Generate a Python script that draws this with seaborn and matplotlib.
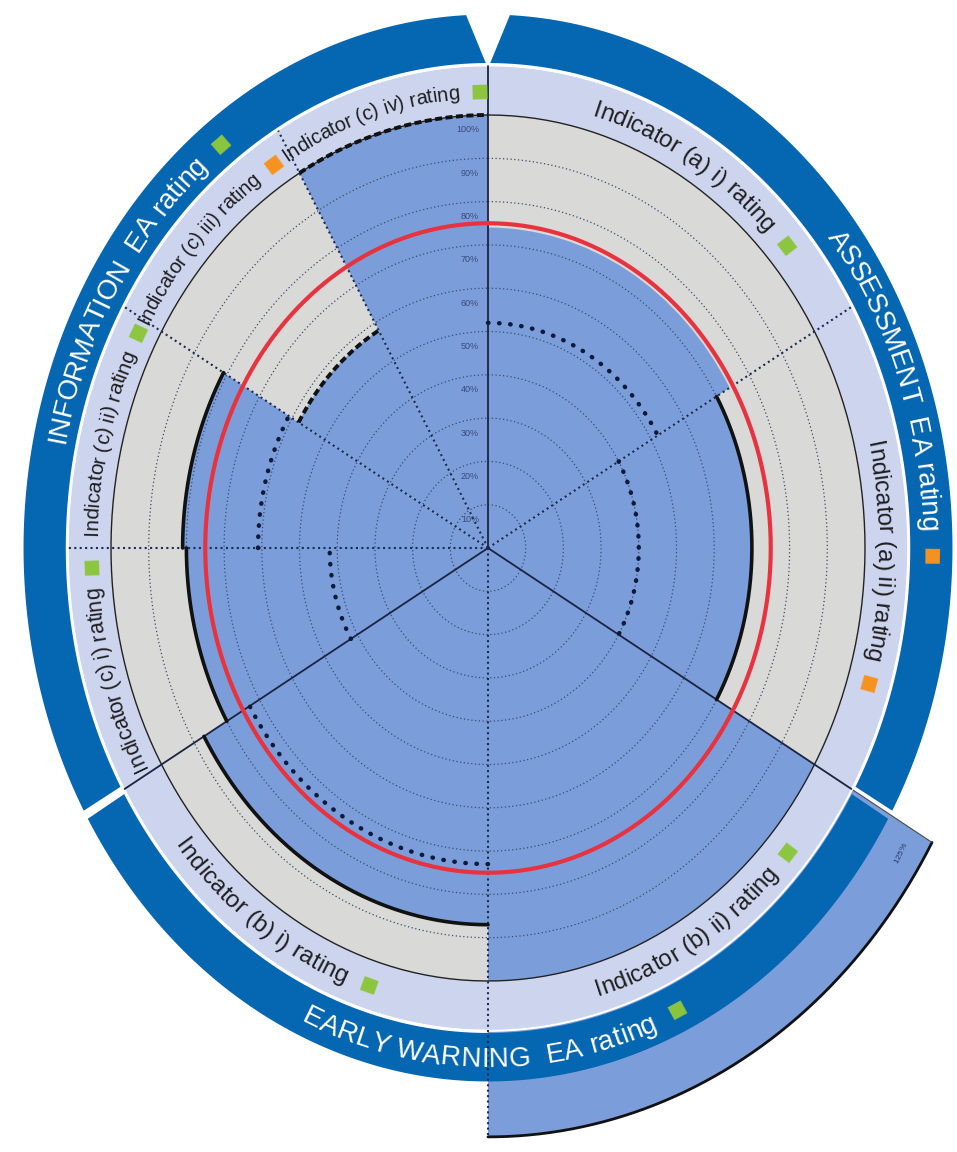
import numpy as np
import matplotlib
matplotlib.use('Agg')
import matplotlib.pyplot as plt
import seaborn as sns
from matplotlib import font_manager
from matplotlib.ft2font import FT2Font
from matplotlib.transforms import offset_copy

# ---- data ----
groups = ['ASSESSMENT', 'EARLY WARNING', 'INFORMATION']
group_labels = ['ASSESSMENT  EA rating', 'EARLY WARNING  EA rating', 'INFORMATION  EA rating']
group_rating = ['orange', 'green', 'green']

indicators = ['Indicator (a) i) rating', 'Indicator (a) ii) rating',
              'Indicator (b) ii) rating', 'Indicator (b) i) rating',
              'Indicator (c) i) rating', 'Indicator (c) ii) rating',
              'Indicator (c) iii) rating', 'Indicator (c) iv) rating']
indicator_group = [0, 0, 1, 1, 2, 2, 2, 2]
score = [74, 70, 136, 87, 80, 81, 58, 100]
outline = [np.nan, 70, 136, 87, 80, 81, np.nan, np.nan]
dotted = [52, 40, np.nan, 73, 42, 61, 58, 100]
indicator_rating = ['green', 'orange', 'green', 'green', 'green', 'green', 'orange', 'green']
target = 75
ring_ticks = [10, 20, 30, 40, 50, 60, 70, 80, 90, 100]

# label centres (degrees clockwise from top) and sizes
label_center = [33, 92.5, 147, 213.5, 255, 285.4, 313.8, 344.4]
label_size = [17.5, 17.5, 17, 17.5, 15.5, 15, 14.5, 14.5]
group_label_center = [72, 179, 302.5]

BLUE = '#7b9edb'
GREY = '#d9d9d7'
LIGHT = '#cdd4ee'
DARK = '#0566b2'
RED = '#e8333f'
NAVY = '#1c2b52'
RATE = {'green': '#8cc63e', 'orange': '#f7931e'}

sns.set_style('white')
plt.rcParams['font.family'] = ['Liberation Sans', 'DejaVu Sans']

DPI = 100
fig = plt.figure(figsize=(9.57, 11.52), dpi=DPI)
cx, cy = 488, 1152 - 548          # centre in pixels
sx, sy = 3.77, 4.33               # pixels per percent
RMAX = 140
ax = fig.add_axes([(cx - RMAX * sx) / 957, (cy - RMAX * sy) / 1152,
                   2 * RMAX * sx / 957, 2 * RMAX * sy / 1152], projection='polar')
ax.set_theta_zero_location('N')
ax.set_theta_direction(-1)
ax.set_ylim(0, RMAX)
ax.set_aspect('auto')
ax.set_xticks([])
ax.set_yticks([])
ax.grid(False)
ax.spines['polar'].set_visible(False)
ax.patch.set_visible(False)

# sector geometry from group membership
n_in_group = [indicator_group.count(g) for g in range(len(groups))]
width = [120 / n_in_group[g] for g in indicator_group]
start = list(np.cumsum([0] + width[:-1]))
mid = [s + w / 2 for s, w in zip(start, width)]


def arc(t0, t1, n=200):
    return np.deg2rad(np.linspace(t0, t1, n))


# background and bars
ax.bar(np.deg2rad(mid), [100] * len(mid), width=np.deg2rad(width), bottom=0,
       color=GREY, edgecolor='none', zorder=1)
ax.bar(np.deg2rad(mid), score, width=np.deg2rad(width), bottom=0,
       color=BLUE, edgecolor='none', zorder=2)

# dotted grid rings
for p in ring_ticks[:-1]:
    ax.plot(arc(0, 360, 400), np.full(400, p), color='#3d4b70', lw=0.9,
            ls=(0, (1, 2)), zorder=3)

# bar beyond the frame: edges
for i, v in enumerate(score):
    if v > 100:
        ax.plot(arc(start[i], start[i] + width[i]), np.full(200, v), color='#111111',
                lw=2, zorder=3)
        ax.plot(np.deg2rad([start[i], start[i]]), [100, v], color='#4a4a4a', lw=0.8, zorder=3)

# label rings
ax.bar(0, 11.3, width=2 * np.pi, bottom=100, color=LIGHT, edgecolor='none', zorder=4)
ax.plot(arc(0, 360, 400), np.full(400, 111.5), color='white', lw=1.6, zorder=4.2)

group_start = [0.3, 120.5, 240.5]
group_end = [119.5, 239.5, 359.7]
outer_start = [2.7, 120.5, 240.5]
outer_end = [119.5, 239.5, 357.3]
for g in range(len(groups)):
    th = np.concatenate([np.linspace(group_start[g], group_end[g], 200),
                         np.linspace(outer_end[g], outer_start[g], 200)])
    rr = np.concatenate([np.full(200, 112.0), np.full(200, 123.2)])
    ax.fill(np.deg2rad(th), rr, color=DARK, lw=0, zorder=4.1)

# 100 % frame
ax.plot(arc(0, 360, 400), np.full(400, 100), color='#222222', lw=1.0, zorder=5)

# radial dividers
for i in range(len(start)):
    first = i == 0 or indicator_group[i] != indicator_group[i - 1]
    r_end = 111.3
    if i > 0 and score[i - 1] > 100:
        r_end = score[i - 1]
    if first:
        ax.plot(np.deg2rad([start[i]] * 2), [0, 111.3], color='#1a2440', lw=1.3, zorder=5)
    else:
        ax.plot(np.deg2rad([start[i]] * 2), [0, r_end], color=NAVY, lw=1.5,
                ls=(0, (1, 1.6)), zorder=5)

# target ring
ax.plot(arc(0, 360, 400), np.full(400, target), color=RED, lw=3, zorder=6)

# outline of bar tops and dotted series
for i in range(len(score)):
    t = arc(start[i], start[i] + width[i])
    if not np.isnan(outline[i]) and outline[i] <= 100:
        ax.plot(t, np.full(200, outline[i]), color='#111111', lw=2.6, zorder=6)
    if not np.isnan(dotted[i]):
        if dotted[i] == score[i]:
            ax.plot(t, np.full(200, dotted[i]), color='#111111', lw=2.8,
                    ls=(0, (1.8, 0.9)), zorder=6)
        else:
            ax.plot(t, np.full(200, dotted[i]), color='#0d1a3a', lw=3.2,
                    ls=(0, (0.1, 2.4)), dash_capstyle='round', zorder=6)

# ring percentage labels
tick_tr = offset_copy(ax.transData, fig=fig, x=-9, y=-15, units='dots')
for p in ring_ticks:
    ax.text(0, p, f'{p}%', transform=tick_tr, ha='right', va='center',
            fontsize=6.5, color='#3a4a7a', zorder=7)

# ---- curved text ----
_fonts = {}


def advance(ch, family, size):
    if family not in _fonts:
        path = font_manager.findfont(font_manager.FontProperties(family=family))
        _fonts[family] = FT2Font(path)
    f = _fonts[family]
    f.set_size(size, DPI)
    return f.load_char(ord(ch)).linearHoriAdvance / 65536


def disp(th, r):
    return ax.transData.transform((np.deg2rad(th), r))


def walk(th, r, dist, sign):
    n = int(abs(dist) / 3) + 1
    for _ in range(n):
        p0, p1 = disp(th, r), disp(th + 0.05, r)
        rate = np.hypot(*(p1 - p0)) / 0.05
        th += sign * dist / n / rate
    return th


def arc_label(segments, center, r, cap_px, flip):
    sign = -1 if flip else 1
    chars = [(ch, c, fam, sz, wt) for (txt, c, fam, sz, wt) in segments for ch in txt]
    total = sum(advance(ch, fam, sz) for ch, c, fam, sz, wt in chars)
    th = walk(center, r, -total / 2, sign)
    inv = fig.transFigure.inverted()
    for ch, c, fam, sz, wt in chars:
        a = advance(ch, fam, sz)
        th = walk(th, r, a / 2, sign)
        p = disp(th, r)
        q = disp(th + sign * 0.05, r)
        t = (q - p) / np.hypot(*(q - p))
        up = np.array([-t[1], t[0]])
        rot = np.degrees(np.arctan2(t[1], t[0]))
        if ch == '\u25a0':
            pos, va = p, 'center'
        else:
            pos, va = p - up * cap_px / 2, 'baseline'
        fx, fy = inv.transform(pos)
        if ch != ' ':
            fig.text(fx, fy, ch, rotation=rot, rotation_mode='anchor', ha='center',
                     va=va, color=c, family=fam, fontsize=sz, fontweight=wt)
        th = walk(th, r, a / 2, sign)


GRP = 20
for i, name in enumerate(indicators):
    c = label_center[i]
    sz = label_size[i]
    arc_label([(name + '  ', '#1e1e1e', 'Liberation Sans', sz, 'normal'),
               ('\u25a0', RATE[indicator_rating[i]], 'DejaVu Sans', 14, 'normal')],
              c, 105.6, sz, 120 < c < 240)

for g, name in enumerate(group_labels):
    c = group_label_center[g]
    arc_label([(name + '  ', 'white', 'Liberation Sans', GRP, 'normal'),
               ('\u25a0', RATE[group_rating[g]], 'DejaVu Sans', 14, 'normal')],
              c, 117.6, 20, 120 < c < 240)

arc_label([('125%', '#2a3a6a', 'Liberation Sans', 6, 'normal')], 122.8, 130, 6, True)

fig.savefig('out.png', dpi=DPI, facecolor='white')
